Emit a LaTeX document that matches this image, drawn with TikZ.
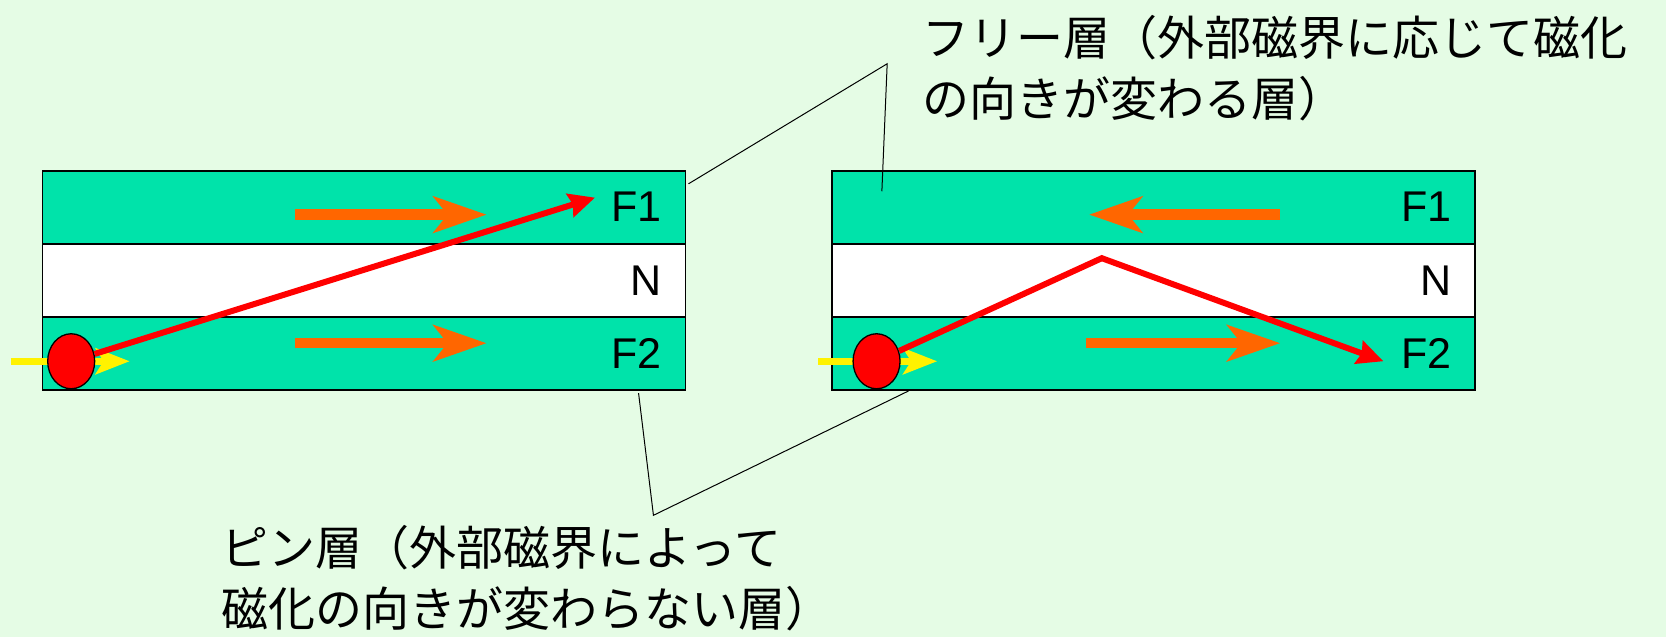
\documentclass[tikz,border=0pt]{standalone}
\usepackage{fontspec}
\setmainfont{Liberation Sans}
\newfontfamily\jp{Noto Sans CJK JP}
\usetikzlibrary{arrows.meta,shapes.geometric}
\definecolor{bgcol}{RGB}{229,252,229}
\definecolor{layer}{RGB}{0,227,170}
\definecolor{magarrow}{RGB}{255,102,0}
\tikzset{
	layerbox/.style={draw,line width=1.7pt,fill=layer,minimum width=643pt,minimum height=73pt,inner sep=0},
	lbl/.style={font=\fontsize{43}{43}\selectfont,anchor=east,inner sep=0},
	magarr/.style={magarrow,line width=10.5pt,-{Stealth[length=53pt,width=36pt,inset=14pt]}},
	spin/.style={yellow,line width=7.5pt,-{Stealth[length=34pt,width=26pt,inset=8pt]}},
	ball/.style={ellipse,draw,fill=red,line width=1.3pt,minimum width=47pt,minimum height=55pt,inner sep=0},
	elpath/.style={red,line width=6pt,-{Stealth[length=26pt,width=24pt,inset=3pt]}},
	callout/.style={black,line width=1pt},
	jptext/.style={font=\jp\fontsize{47}{61}\selectfont,align=left,inner sep=0}
}
\begin{document}
\begin{tikzpicture}[x=1.0625pt,y=-1.0625pt,thick]
		\fill[bgcol] (0,0) rectangle (1568,599.5);
		% layers
		\foreach \x/\s in {342.5/L,1085.5/R} {
			\node[layerbox] (\s F1) at (\x,195) {};
			\node[layerbox,fill=white] (\s N) at (\x,264) {};
			\node[layerbox] (\s F2) at (\x,332.5) {};
			\node[lbl] (\s F1t) at ([xshift=-24pt]\s F1.east) {F1};
			\node[lbl] (\s Nt) at ([xshift=-24pt]\s N.east) {N};
			\node[lbl] (\s F2t) at ([xshift=-24pt]\s F2.east) {F2};
		}
		% magnetization
		\draw[magarr] (278,202) -- (458,202);
		\draw[magarr] (278,323) -- (458,323);
		\draw[magarr] (1205,202) -- (1025,202);
		\draw[magarr] (1022,323) -- (1205,323);
		% electrons
		\draw[spin] (10,340) -- (122,340);
		\draw[spin] (770,340) -- (882,340);
		\node[ball] (Lball) at (67,340) {};
		\node[ball] (Rball) at (825,340) {};
		\coordinate (Lend) at (560,186);
		\coordinate (Rtop) at (1037,243);
		\coordinate (Rend) at (1302,340);
		\draw[elpath] (Lball) -- (Lend);
		\draw[elpath] (Rball) -- (Rtop) -- (Rend);
		% callouts
		\node[jptext,anchor=north west] (free) at (868,14) {フリー層（外部磁界に応じて磁化\\の向きが変わる層）};
		\node[jptext,anchor=north west] (pin) at (208,494) {ピン層（外部磁界によって\\磁化の向きが変わらない層）};
		\coordinate (fv) at (835,60);
		\coordinate (fa) at (648,173);
		\coordinate (fb) at (830,180);
		\draw[callout] (fa) -- (fv) -- (fb);
		\coordinate (pv) at (615,485);
		\coordinate (pa) at (601,370);
		\coordinate (pb) at (855,368);
		\draw[callout] (pa) -- (pv) -- (pb);
	\end{tikzpicture}
\end{document}
